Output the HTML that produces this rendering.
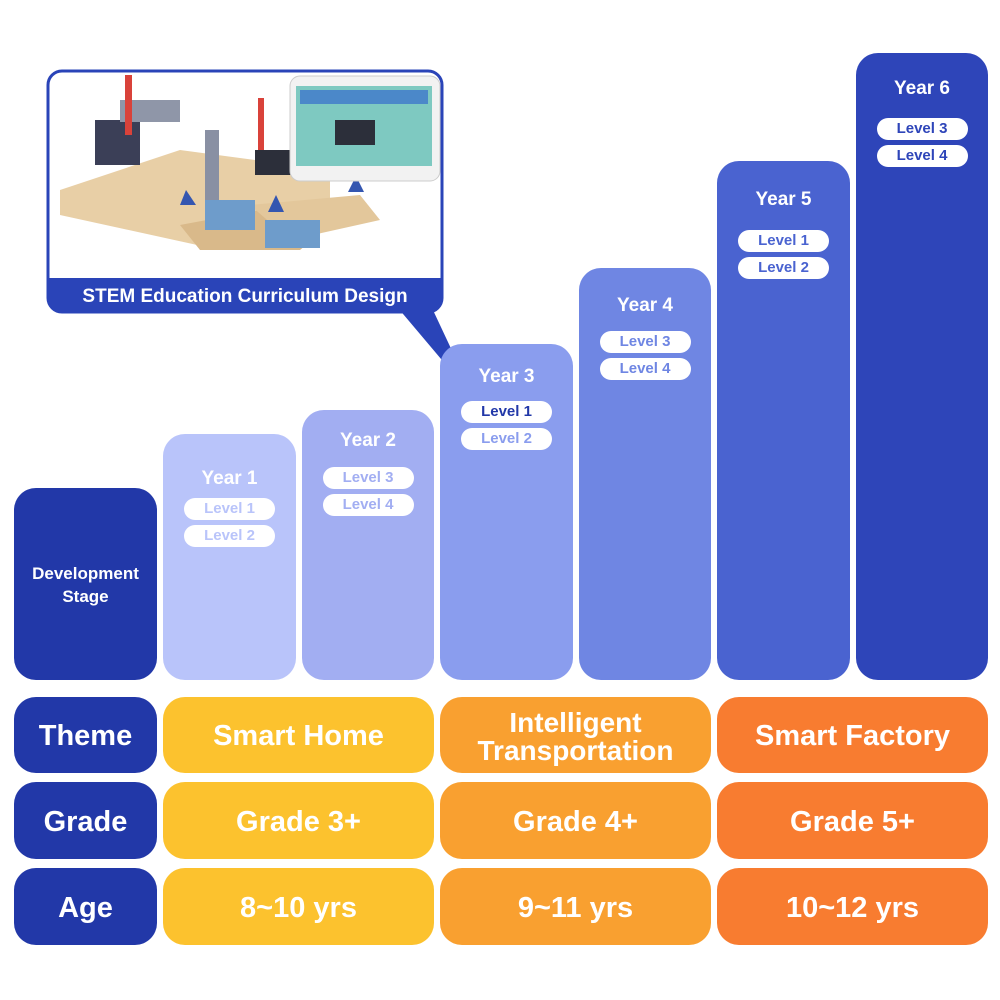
<!DOCTYPE html>
<html><head><meta charset="utf-8"><style>
*{margin:0;padding:0;box-sizing:border-box}
body{width:1000px;height:1000px;background:#fff;position:relative;overflow:hidden;font-family:"Liberation Sans","DejaVu Sans",sans-serif;font-weight:bold}
.b{position:absolute;border-radius:22px;color:#fff;text-align:center}
.col{position:absolute;border-radius:22px;text-align:center;color:#fff}
.yt{font-size:19px;margin-top:34px;line-height:22px}
.pill{width:91px;height:22px;margin:0 auto 5px;background:#fff;border-radius:11px;font-size:15px;line-height:22px}
.row{display:flex;align-items:center;justify-content:center;font-size:29px;line-height:29px;padding-top:3px}
</style></head><body>

<svg style="position:absolute;left:0;top:0" width="1000" height="1000">
<polygon points="398,308 432,308 462,372 452,372" fill="#2A44B8"/>
<rect x="48" y="71" width="394" height="241" rx="14" fill="#fff" stroke="#2A44B8" stroke-width="3"/>
<path d="M48,278 H442 V298 a14,14 0 0 1 -14,14 H62 a14,14 0 0 1 -14,-14 Z" fill="#2A44B8"/>
<polygon points="60,190 180,150 330,170 330,215 220,250 60,215" fill="#E8CFA6"/>
<polygon points="180,225 260,210 330,225 300,250 200,250" fill="#D9B98A"/>
<polygon points="250,205 360,195 380,220 290,240" fill="#E3C79B"/>
<rect x="95" y="120" width="45" height="45" fill="#3B3F57"/>
<rect x="120" y="100" width="60" height="22" fill="#8F96A8"/>
<rect x="125" y="75" width="7" height="60" fill="#D9423A"/>
<rect x="258" y="98" width="6" height="55" fill="#D9423A"/>
<rect x="205" y="130" width="14" height="80" fill="#8990A3"/>
<rect x="255" y="150" width="60" height="25" fill="#2C2F3A"/>
<rect x="205" y="200" width="50" height="30" fill="#6E9CCB"/>
<rect x="265" y="220" width="55" height="28" fill="#6E9CCB"/>
<polygon points="186,190 180,205 196,205" fill="#3456B0"/>
<polygon points="276,195 268,212 284,212" fill="#3456B0"/>
<polygon points="356,176 348,192 364,192" fill="#3456B0"/>
<rect x="290" y="76" width="150" height="105" rx="10" fill="#F2F2F2" stroke="#ccc"/>
<rect x="296" y="86" width="136" height="80" fill="#7EC9C1"/>
<rect x="300" y="90" width="128" height="14" fill="#4B88C9"/>
<rect x="335" y="120" width="40" height="25" fill="#2C2F3A"/>
<text x="245" y="302" text-anchor="middle" font-family="Liberation Sans, sans-serif" font-weight="bold" font-size="19" fill="#fff">STEM Education Curriculum Design</text>
</svg>

<div class="b" style="left:14px;top:488px;width:143px;height:192px;background:#2238A8;font-size:17px;line-height:23px;padding-top:74px">Development<br>Stage</div>

<div class="col" style="left:163px;top:434px;width:133px;height:246px;background:#B9C4FA"><div class="yt" style="margin-bottom:8px">Year 1</div><div class="pill" style="color:#B9C4FA">Level 1</div><div class="pill" style="color:#B9C4FA">Level 2</div></div>
<div class="col" style="left:302px;top:410px;width:132px;height:270px;background:#A2AEF2"><div class="yt" style="margin-top:20px;margin-bottom:15px">Year 2</div><div class="pill" style="color:#A2AEF2">Level 3</div><div class="pill" style="color:#A2AEF2">Level 4</div></div>
<div class="col" style="left:440px;top:344px;width:133px;height:336px;background:#8A9DEE"><div class="yt" style="margin-top:22px;margin-bottom:13px">Year 3</div><div class="pill" style="color:#2238A8">Level 1</div><div class="pill" style="color:#8A9DEE">Level 2</div></div>
<div class="col" style="left:579px;top:268px;width:132px;height:412px;background:#6F86E3"><div class="yt" style="margin-top:27px;margin-bottom:14px">Year 4</div><div class="pill" style="color:#6F86E3">Level 3</div><div class="pill" style="color:#6F86E3">Level 4</div></div>
<div class="col" style="left:717px;top:161px;width:133px;height:519px;background:#4A63D0"><div class="yt" style="margin-top:28px;margin-bottom:19px">Year 5</div><div class="pill" style="color:#4A63D0">Level 1</div><div class="pill" style="color:#4A63D0">Level 2</div></div>
<div class="col" style="left:856px;top:53px;width:132px;height:627px;background:#2E45B9"><div class="yt" style="margin-top:25px;margin-bottom:18px">Year 6</div><div class="pill" style="color:#2E45B9">Level 3</div><div class="pill" style="color:#2E45B9">Level 4</div></div>

<div class="b row" style="left:14px;top:697px;width:143px;height:76px;background:#2238A8">Theme</div>
<div class="b row" style="left:14px;top:782px;width:143px;height:77px;background:#2238A8">Grade</div>
<div class="b row" style="left:14px;top:868px;width:143px;height:77px;background:#2238A8">Age</div>

<div class="b row" style="left:163px;top:697px;width:271px;height:76px;background:#FCC22E">Smart Home</div>
<div class="b row" style="left:163px;top:782px;width:271px;height:77px;background:#FCC22E">Grade 3+</div>
<div class="b row" style="left:163px;top:868px;width:271px;height:77px;background:#FCC22E">8~10 yrs</div>

<div class="b row" style="left:440px;top:697px;width:271px;height:76px;background:#F9A030;font-size:28px;line-height:28px">Intelligent<br>Transportation</div>
<div class="b row" style="left:440px;top:782px;width:271px;height:77px;background:#F9A030">Grade 4+</div>
<div class="b row" style="left:440px;top:868px;width:271px;height:77px;background:#F9A030">9~11 yrs</div>

<div class="b row" style="left:717px;top:697px;width:271px;height:76px;background:#F87C30">Smart Factory</div>
<div class="b row" style="left:717px;top:782px;width:271px;height:77px;background:#F87C30">Grade 5+</div>
<div class="b row" style="left:717px;top:868px;width:271px;height:77px;background:#F87C30">10~12 yrs</div>
</body></html>
